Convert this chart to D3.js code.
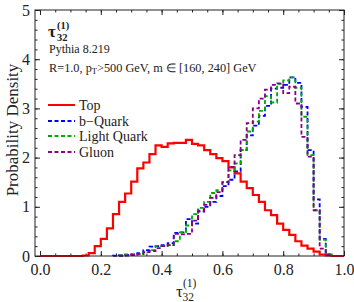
<!DOCTYPE html>
<html>
<head>
<meta charset="utf-8">
<title>tau32 histogram</title>
<script src="https://cdn.jsdelivr.net/npm/d3@7"></script>
<style>
  body { margin: 0; background: #fff; }
  svg { display: block; font-family: "Liberation Serif", "Times New Roman", serif; }
</style>
</head>
<body>
<svg id="chart" width="354" height="302"></svg>
<script>
// histogram: 50 bins of width 0.02 from 0 to 1
const binWidth = 0.02;
const xTicks = [0, 0.2, 0.4, 0.6, 0.8, 1.0];
const yTicks = [0, 1, 2, 3, 4, 5];

const top_ = [0, 0, 0, 0, 0, 0, 0, 0.01, 0.06, 0.20,
  0.35, 0.56, 0.85, 1.10, 1.27, 1.51, 1.78, 1.90, 2.07, 2.25,
  2.22, 2.29, 2.30, 2.30, 2.36, 2.28, 2.25, 2.15, 2.07, 1.99,
  1.93, 1.80, 1.68, 1.51, 1.38, 1.24, 1.10, 0.93, 0.83, 0.66,
  0.53, 0.43, 0.30, 0.21, 0.15, 0.09, 0.03, 0.01, 0, 0];

const bQuark = [0, 0, 0, 0, 0, 0, 0, 0, 0, 0,
  0, 0, 0.005, 0.01, 0.02, 0.03, 0.06, 0.12, 0.19, 0.20,
  0.22, 0.26, 0.47, 0.48, 0.75, 0.66, 0.90, 1.00, 1.10, 1.22,
  1.42, 1.55, 1.72, 2.15, 2.45, 2.65, 2.85, 3.05, 3.40, 3.42,
  3.48, 3.63, 3.52, 3.03, 2.15, 1.15, 0.35, 0.03, 0, 0];

const lightQuark = [0, 0, 0, 0, 0, 0, 0, 0, 0, 0,
  0, 0, 0, 0.01, 0.03, 0.02, 0.04, 0.08, 0.12, 0.20,
  0.20, 0.22, 0.30, 0.48, 0.62, 0.85, 0.98, 1.10, 1.28, 1.34,
  1.50, 1.74, 1.88, 2.15, 2.53, 2.73, 2.95, 3.25, 3.12, 3.50,
  3.57, 3.63, 3.42, 2.83, 2.05, 0.93, 0.33, 0.03, 0, 0];

const gluon = [0, 0, 0, 0, 0, 0, 0, 0, 0, 0,
  0, 0, 0, 0.005, 0.01, 0.02, 0.04, 0.08, 0.10, 0.16,
  0.20, 0.22, 0.45, 0.44, 0.45, 0.72, 0.92, 1.04, 1.18, 1.30,
  1.50, 1.81, 2.05, 2.36, 2.70, 3.00, 3.20, 3.38, 3.48, 3.51,
  3.31, 3.44, 3.10, 2.42, 2.02, 0.93, 0.15, 0.02, 0, 0];

const seriesNames = ["Top", "b\u2212Quark", "Light Quark", "Gluon"];
const seriesColors = ["#ff0000", "#0000ff", "#00aa00", "#880088"];

const svg = d3.select("#chart");
const L = 35, R = 344, T = 10, B = 256;

const x = d3.scaleLinear().domain([-0.0165, 1]).range([L, R]);
const y = d3.scaleLinear().domain([0, 5]).range([B, T]);

const ink = "#222";

// minor ticks, all pointing inward
const minorX = d3.range(0, 1.0001, 0.05);
const minorY = d3.range(0, 5.0001, 0.2);

function minorAxis(gen, pos, vals) {
  svg.append("g").attr("transform", pos)
    .call(gen.tickValues(vals).tickSize(-2.5).tickFormat(() => ""));
}
minorAxis(d3.axisBottom(x), `translate(0,${B})`, minorX);
minorAxis(d3.axisTop(x), `translate(0,${T})`, minorX);
minorAxis(d3.axisLeft(y), `translate(${L},0)`, minorY);
minorAxis(d3.axisRight(y), `translate(${R},0)`, minorY);

// major ticks + labels
svg.append("g").attr("transform", `translate(0,${B})`)
  .call(d3.axisBottom(x).tickValues(xTicks).tickSize(-5).tickPadding(8).tickFormat(d3.format(".1f")));
svg.append("g").attr("transform", `translate(${L},0)`)
  .call(d3.axisLeft(y).tickValues(yTicks).tickSize(-5).tickPadding(5).tickFormat(d3.format("d")));
svg.append("g").attr("transform", `translate(0,${T})`)
  .call(d3.axisTop(x).tickValues(xTicks).tickSize(-5).tickFormat(() => ""));
svg.append("g").attr("transform", `translate(${R},0)`)
  .call(d3.axisRight(y).tickValues(yTicks).tickSize(-5).tickFormat(() => ""));

svg.selectAll(".domain").remove();
svg.selectAll(".tick line").attr("stroke", ink);
svg.selectAll(".tick text")
  .attr("font-family", '"Liberation Serif", serif')
  .attr("font-size", 16).attr("fill", ink);

// histograms
const stepLine = d3.line()
  .x(d => x(d[0])).y(d => y(d[1]))
  .curve(d3.curveStepAfter);

function histPoints(vals, trim) {
  let lo = 0, hi = vals.length - 1;
  if (trim) {
    while (lo < hi && vals[lo] === 0) lo++;
    while (hi > lo && vals[hi] === 0) hi--;
  }
  const pts = [];
  if (trim) pts.push([lo * binWidth, 0]);
  for (let i = lo; i <= hi; i++) pts.push([i * binWidth, vals[i]]);
  pts.push([(hi + 1) * binWidth, trim ? 0 : vals[hi]]);
  return pts;
}

const allSeries = [top_, bQuark, lightQuark, gluon];
allSeries.forEach((vals, k) => {
  svg.append("path")
    .attr("d", stepLine(histPoints(vals, k > 0)))
    .attr("fill", "none")
    .attr("stroke", seriesColors[k])
    .attr("stroke-width", k === 0 ? 2.2 : 1.8)
    .attr("stroke-dasharray", k === 0 ? null : "4,2.5");
});

// frame
svg.append("rect")
  .attr("x", L).attr("y", T).attr("width", R - L).attr("height", B - T)
  .attr("fill", "none").attr("stroke", ink).attr("stroke-width", 1);

// legend
const legY = [105, 121, 136, 152];
seriesNames.forEach((name, k) => {
  svg.append("line")
    .attr("x1", 48).attr("x2", 75).attr("y1", legY[k]).attr("y2", legY[k])
    .attr("stroke", seriesColors[k]).attr("stroke-width", k === 0 ? 2 : 1.8)
    .attr("stroke-dasharray", k === 0 ? null : "4,2.5");
  svg.append("text")
    .attr("x", 79).attr("y", legY[k] + 5)
    .attr("font-size", 14).attr("fill", ink)
    .text(name);
});

// annotation
const note = svg.append("g").attr("fill", ink);
note.append("text").attr("x", 48).attr("y", 36.5)
  .attr("font-size", 17).attr("font-weight", "bold").text("\u03c4");
note.append("text").attr("x", 57).attr("y", 41)
  .attr("font-size", 10.5).attr("font-weight", "bold").text("32");
note.append("text").attr("x", 57).attr("y", 29)
  .attr("font-size", 10.5).attr("font-weight", "bold").text("(1)");
note.append("text").attr("x", 49).attr("y", 53)
  .attr("font-size", 12).text("Pythia 8.219");
const cuts = note.append("text").attr("x", 49).attr("y", 71.5).attr("font-size", 12.3);
cuts.append("tspan").text("R=1.0, p");
cuts.append("tspan").attr("font-size", 8.5).attr("dy", 2.5).text("T");
cuts.append("tspan").attr("dy", -2.5).text(">500 GeV, m \u2208 [160, 240] GeV");

// axis titles
svg.append("text")
  .attr("transform", "translate(18,130) rotate(-90)")
  .attr("text-anchor", "middle").attr("font-size", 17).attr("fill", ink)
  .text("Probability Density");

const xt = svg.append("g").attr("fill", ink);
xt.append("text").attr("x", 176).attr("y", 296.5).attr("font-size", 17).text("\u03c4");
xt.append("text").attr("x", 182.5).attr("y", 300.5).attr("font-size", 11.5).text("32");
xt.append("text").attr("x", 183).attr("y", 286.5).attr("font-size", 11.5).text("(1)");
</script>
</body>
</html>
